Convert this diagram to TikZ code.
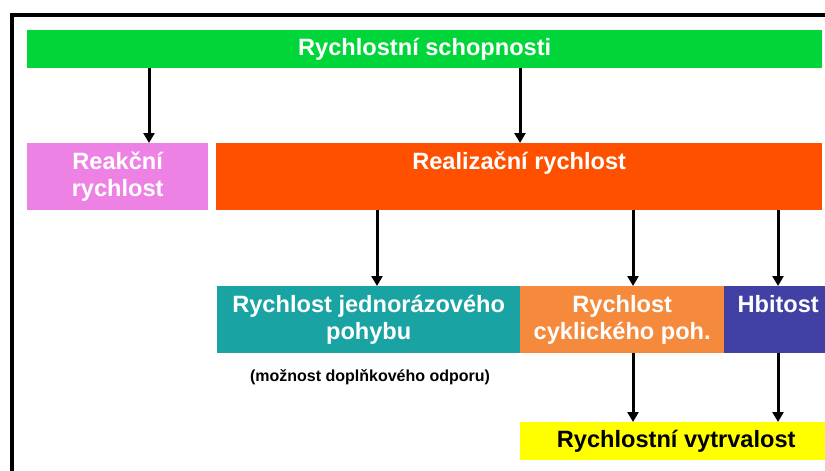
\documentclass[tikz,border=0pt]{standalone}
\usepackage{fontspec}
\setmainfont{Liberation Sans}
\usetikzlibrary{arrows.meta}
\definecolor{cgreen}{RGB}{0,214,58}
\definecolor{cpink}{RGB}{238,130,228}
\definecolor{cred}{RGB}{255,80,0}
\definecolor{cteal}{RGB}{26,163,163}
\definecolor{corange}{RGB}{245,137,60}
\definecolor{cblue}{RGB}{65,65,165}
\definecolor{cyellow}{RGB}{255,255,0}
\begin{document}
\begin{tikzpicture}[x=1pt,y=-1pt,
  box/.style={draw=none, inner sep=0pt, anchor=north west, align=center,
    font=\fontsize{23.6}{27}\selectfont\bfseries, text=white},
  arr/.style={-{Triangle[length=10pt,width=11pt]}, line width=3pt}]
\useasboundingbox (0,0) rectangle (825,471);
\clip (0,0) rectangle (825,471);
\fill[white] (0,0) rectangle (825,471);
\draw[line width=3.2pt] (12,480) -- (12,15) -- (840,15);
% boxes
\node[box, fill=cgreen, minimum width=795pt, minimum height=38pt] (top) at (27,30) {Rychlostní schopnosti};
\node[box, fill=cpink, minimum width=181pt, minimum height=67pt] (reak) at (27,143) {Reakční\\rychlost};
\node[box, fill=cred, minimum width=606pt, minimum height=67pt] (real) at (216,143) {Realizační rychlost\\\vphantom{y}};
\node[box, fill=cteal, minimum width=303pt, minimum height=67pt] (jedn) at (217,286) {Rychlost jednorázového\\pohybu};
\node[box, fill=corange, minimum width=204pt, minimum height=67pt] (cykl) at (520,286) {Rychlost\\cyklického poh.};
\node[box, fill=cblue, minimum width=108pt, minimum height=67pt] (hbit) at (724,286) {Hbitost\\\vphantom{y}};
\node[box, fill=cyellow, text=black, minimum width=312pt, minimum height=38pt] (vytr) at (520,422) {Rychlostní vytrvalost};
\node[font=\fontsize{16}{19}\selectfont\bfseries, inner sep=0pt] (note) at (370,377) {(možnost doplňkového odporu)};
% arrow columns
\coordinate (xa) at (149,0);
\coordinate (xb) at (520,0);
\coordinate (xc) at (377,0);
\coordinate (xd) at (633,0);
\coordinate (xe) at (778,0);
\draw[arr] (top.south -| xa) -- (reak.north -| xa);
\draw[arr] (top.south -| xb) -- (real.north -| xb);
\draw[arr] (real.south -| xc) -- (jedn.north -| xc);
\draw[arr] (real.south -| xd) -- (cykl.north -| xd);
\draw[arr] (real.south -| xe) -- (hbit.north -| xe);
\draw[arr] (cykl.south -| xd) -- (vytr.north -| xd);
\draw[arr] (hbit.south -| xe) -- (vytr.north -| xe);
\end{tikzpicture}
\end{document}
